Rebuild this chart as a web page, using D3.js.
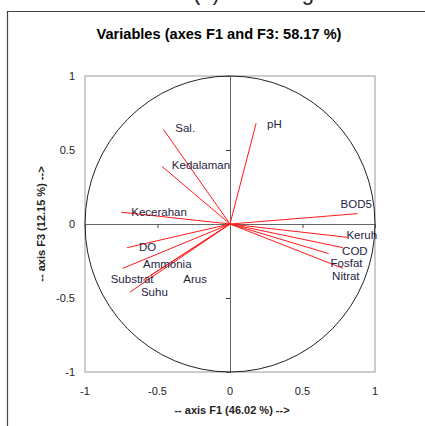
<!DOCTYPE html>
<html>
<head>
    <meta charset="utf-8">
    <script src="https://cdn.jsdelivr.net/npm/d3@7"></script>
    <style>
        body { margin: 0; background: #fff; }
        text { font-family: "Liberation Sans", Arial, sans-serif; }
    </style>
</head>
<body>
<script>
    // variables and their correlations with F1 / F3
    var variables = ["Sal.", "Kedalaman", "Kecerahan", "pH", "BOD5", "Keruh", "COD",
        "Fosfat", "Nitrat", "DO", "Ammonia", "Substrat", "Arus", "Suhu"];
    var f1 = [-0.46, -0.47, -0.75, 0.18, 0.88, 0.81, 0.78, 0.68, 0.78, -0.71, -0.60, -0.74, -0.55, -0.69];
    var f3 = [0.64, 0.39, 0.08, 0.68, 0.07, -0.09, -0.16, -0.20, -0.30, -0.16, -0.38, -0.30, -0.35, -0.46];
    var ticks = [-1, -0.5, 0, 0.5, 1];
    var tickLabels = ["-1", "-0.5", "0", "0.5", "1"];

    // label offsets from arrow end, in px
    var labelShift = {
        "Sal.": [12, 3], "Kedalaman": [10, 3], "Kecerahan": [10, 4], "pH": [11, 5],
        "BOD5": [-17, -6], "Keruh": [-1, 2], "COD": [-1, 7], "Fosfat": [2, 13],
        "Nitrat": [-11, 12], "DO": [12, 3], "Ammonia": [0, -12], "Substrat": [-12, 15],
        "Arus": [33, 7], "Suhu": [11, 4]
    };

    var svg = d3.select("body").append("svg")
        .attr("width", 425)
        .attr("height", 426);

    // outer frame (only left and top visible)
    svg.append("path")
        .attr("d", "M7.5,426 V11.5 H425")
        .attr("fill", "none")
        .attr("stroke", "#444")
        .attr("stroke-width", 1.2);

    // caption of the figure, cut off by the top edge
    svg.append("text")
        .attr("x", 193).attr("y", 0)
        .attr("font-size", 22)
        .attr("fill", "#222")
        .text("(b) Bulan Agustus");

    svg.append("text")
        .attr("x", 219).attr("y", 39)
        .attr("text-anchor", "middle")
        .attr("font-size", 14.6)
        .attr("font-weight", "bold")
        .attr("fill", "#000")
        .text("Variables (axes F1 and F3: 58.17 %)");

    var x = d3.scaleLinear().domain([-1, 1]).range([85, 375]);
    var y = d3.scaleLinear().domain([-1, 1]).range([372, 76]);

    // plot box
    svg.append("rect")
        .attr("x", x(-1)).attr("y", y(1))
        .attr("width", x(1) - x(-1)).attr("height", y(-1) - y(1))
        .attr("fill", "none")
        .attr("stroke", "#999");

    // zero lines with ticks
    var xAxis = svg.append("g")
        .attr("transform", "translate(0," + y(0) + ")")
        .call(d3.axisBottom(x).tickValues([-0.5, 0.5]).tickSize(4).tickFormat(""));
    var yAxis = svg.append("g")
        .attr("transform", "translate(" + x(0) + ",0)")
        .call(d3.axisLeft(y).tickValues([-0.5, 0.5]).tickSize(4).tickFormat(""));
    [xAxis, yAxis].forEach(function (g) {
        g.select(".domain").attr("stroke", "#666");
        g.selectAll(".tick line").attr("stroke", "#444");
    });

    // tick labels outside the box
    svg.selectAll(".xlab").data(ticks).enter().append("text")
        .attr("x", function (d) { return x(d); })
        .attr("y", 395)
        .attr("text-anchor", "middle")
        .attr("font-size", 11)
        .attr("fill", "#222")
        .text(function (d, i) { return tickLabels[i]; });
    svg.selectAll(".ylab").data(ticks).enter().append("text")
        .attr("x", 75)
        .attr("y", function (d) { return y(d) + 4; })
        .attr("text-anchor", "end")
        .attr("font-size", 11)
        .attr("fill", "#222")
        .text(function (d, i) { return tickLabels[i]; });

    // correlation circle
    svg.append("ellipse")
        .attr("cx", x(0)).attr("cy", y(0))
        .attr("rx", x(1) - x(0)).attr("ry", y(-1) - y(0))
        .attr("fill", "none")
        .attr("stroke", "#222")
        .attr("stroke-width", 1);

    // vectors
    svg.selectAll(".vec").data(variables).enter().append("line")
        .attr("x1", x(0)).attr("y1", y(0))
        .attr("x2", function (d, i) { return x(f1[i]); })
        .attr("y2", function (d, i) { return y(f3[i]); })
        .attr("stroke", "#ff1a1a")
        .attr("stroke-width", 1);

    svg.selectAll(".vlab").data(variables).enter().append("text")
        .attr("x", function (d, i) { return x(f1[i]) + labelShift[d][0]; })
        .attr("y", function (d, i) { return y(f3[i]) + labelShift[d][1]; })
        .attr("font-size", 11.5)
        .attr("fill", "#1f2340")
        .text(function (d) { return d; });

    // axis titles
    svg.append("text")
        .attr("x", 232).attr("y", 414)
        .attr("text-anchor", "middle")
        .attr("font-size", 11)
        .attr("font-weight", "bold")
        .attr("fill", "#222")
        .text("-- axis F1 (46.02 %) -->");
    svg.append("text")
        .attr("transform", "translate(45,224) rotate(-90)")
        .attr("text-anchor", "middle")
        .attr("font-size", 11)
        .attr("font-weight", "bold")
        .attr("fill", "#222")
        .text("-- axis F3 (12.15 %) -->");
</script>
</body>
</html>
